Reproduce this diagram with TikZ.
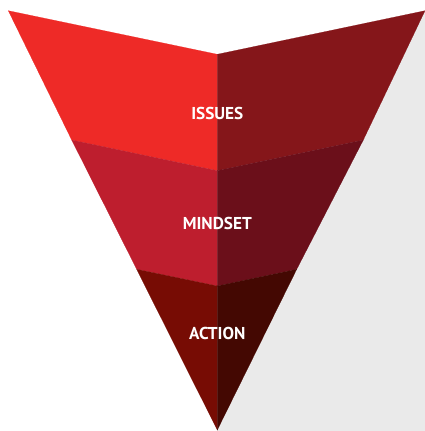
\documentclass[tikz,border=0pt]{standalone}
\usepackage{fontspec}
\setsansfont{PT Sans}
\definecolor{issuesL}{HTML}{EE2A27}
\definecolor{issuesR}{HTML}{85161A}
\definecolor{mindL}{HTML}{BE1E2E}
\definecolor{mindR}{HTML}{6B0F1A}
\definecolor{actionL}{HTML}{770C04}
\definecolor{actionR}{HTML}{440802}
\definecolor{backgray}{HTML}{EAEAEA}

\begin{document}
\begin{tikzpicture}[
  x=1pt,
  y=-1pt,
  band/.style={line width=0.2pt},
  level/.style={font=\sffamily\bfseries\fontsize{17.2}{19}\selectfont,text=white,inner sep=0pt},
]
\useasboundingbox (0,0) rectangle (425,431);
\coordinate (top-l) at (8.3,10.7);
\coordinate (top-c) at (217.3,54.3);
\coordinate (top-r) at (425,10.7);
\coordinate (mid-l) at (71.7,140);
\coordinate (mid-c) at (217.3,170.7);
\coordinate (mid-r) at (363.3,140);
\coordinate (low-l) at (136.7,269.3);
\coordinate (low-c) at (217.3,286);
\coordinate (low-r) at (296.7,269.3);
\coordinate (tip) at (217.3,430);
% shadow on the right
\fill[backgray] (top-r) -- (tip) -- (217.3,431) -- (425,431) -- cycle;
% the three bands, each in two halves
\filldraw[band,issuesL] (top-l) -- (top-c) -- (mid-c) -- (mid-l) -- cycle;
\filldraw[band,issuesR] (top-c) -- (top-r) -- (mid-r) -- (mid-c) -- cycle;
\filldraw[band,mindL] (mid-l) -- (mid-c) -- (low-c) -- (low-l) -- cycle;
\filldraw[band,mindR] (mid-c) -- (mid-r) -- (low-r) -- (low-c) -- cycle;
\filldraw[band,actionL] (low-l) -- (low-c) -- (tip) -- cycle;
\filldraw[band,actionR] (low-c) -- (low-r) -- (tip) -- cycle;
\node[level] (issues) at (217.3,113) {ISSUES};
\node[level] (mindset) at (217.3,223) {MINDSET};
\node[level] (action) at (217.3,333) {ACTION};
\end{tikzpicture}
\end{document}
